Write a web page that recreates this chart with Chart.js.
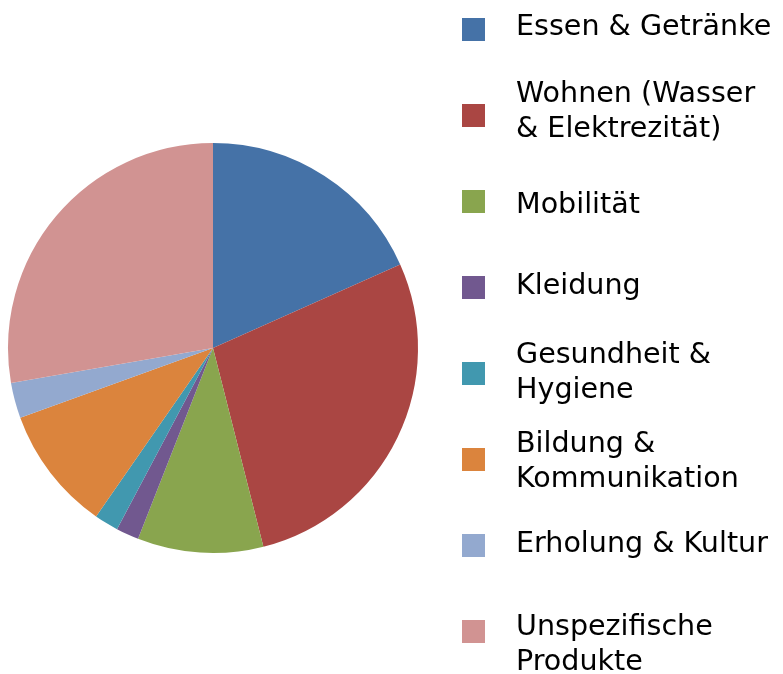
<!DOCTYPE html>
<html>
<head>
<meta charset="utf-8">
<script src="https://cdn.jsdelivr.net/npm/chart.js@4/dist/chart.umd.min.js"></script>
<style>
  html, body { margin: 0; padding: 0; background: #fff; }
  canvas { display: block; }
</style>
</head>
<body>
<canvas id="pie" width="783" height="674"></canvas>
<script>
// Kategorien (mehrzeilig wie in der Vorlage)
const categories = [
  ["Essen & Getränke"],
  ["Wohnen (Wasser", "& Elektrezität)"],
  ["Mobilität"],
  ["Kleidung"],
  ["Gesundheit &", "Hygiene"],
  ["Bildung &", "Kommunikation"],
  ["Erholung & Kultur"],
  ["Unspezifische", "Produkte"],
];

// Anteile in Prozent (aus dem Bild geschätzt)
const shares = [18.3, 27.7, 9.9, 1.8, 1.9, 9.8, 2.8, 27.7];

const colors = [
  "#4572A7",
  "#AA4643",
  "#89A54E",
  "#71588F",
  "#4198AF",
  "#DB843D",
  "#93A9CF",
  "#D19392",
];

// Legende: Position der ersten Grundlinie je Eintrag
const legendBaselines = [35, 102, 213, 294, 363, 452, 552, 635];

// ===== eigene Legende rechts =====
const sideLegend = {
  id: "sideLegend",
  afterDraw: (chart) => {
    const { ctx } = chart;
    const ds = chart.data.datasets[0];
    ctx.save();
    ctx.font = "28px 'DejaVu Sans'";
    ctx.textBaseline = "alphabetic";
    chart.data.labels.forEach((lines, i) => {
      const boxTop = 18 + 86 * i;
      ctx.fillStyle = ds.backgroundColor[i];
      ctx.fillRect(462, boxTop, 23, 23);
      ctx.fillStyle = "#000";
      lines.forEach((line, j) => {
        ctx.save();
        ctx.translate(516, legendBaselines[i] + 35 * j);
        ctx.scale(1.02, 1);
        ctx.fillText(line, 0, 0);
        ctx.restore();
      });
    });
    ctx.restore();
  },
};

new Chart(document.getElementById("pie").getContext("2d"), {
  type: "pie",
  data: {
    labels: categories,
    datasets: [
      {
        data: shares,
        backgroundColor: colors,
        borderWidth: 0,
        hoverOffset: 0,
        offset: 0,
      },
    ],
  },
  options: {
    responsive: false,
    animation: false,
    layout: {
      padding: { left: 8, top: 143, right: 365, bottom: 121 },
    },
    plugins: {
      legend: { display: false },
      tooltip: {
        callbacks: { label: (ti) => ti.raw + " %" },
      },
    },
  },
  plugins: [sideLegend],
});
</script>
</body>
</html>
